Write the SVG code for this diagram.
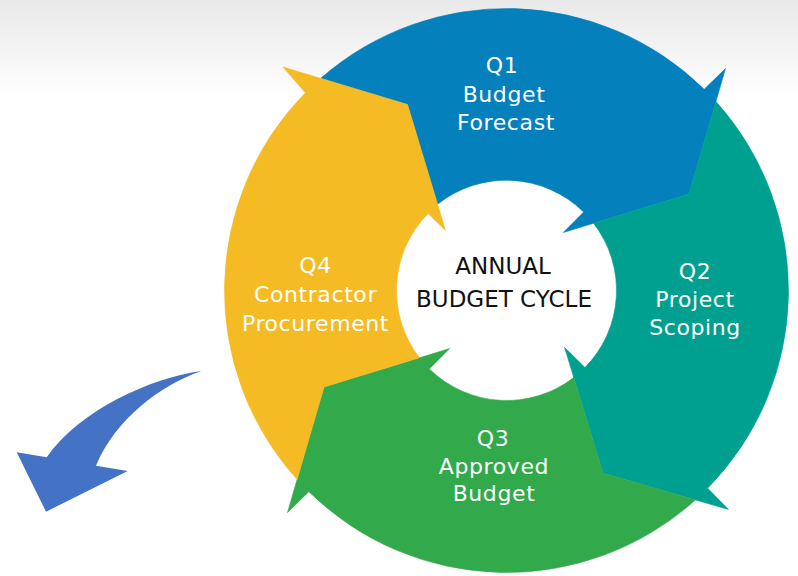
<svg xmlns="http://www.w3.org/2000/svg" width="798" height="576" viewBox="0 0 798 576">
  <defs>
    <linearGradient id="haze" x1="0" y1="0" x2="0" y2="1">
      <stop offset="0" stop-color="#e9e9e9"/>
      <stop offset="0.55" stop-color="#f4f4f4"/>
      <stop offset="1" stop-color="#ffffff"/>
    </linearGradient>
    <style>
      .seg-blue { fill: #0480bc; stroke: #0480bc; stroke-width: 0.6; stroke-linejoin: miter; }
      .seg-teal { fill: #00a091; stroke: #00a091; stroke-width: 0.6; stroke-linejoin: miter; }
      .seg-green { fill: #32aa4b; stroke: #32aa4b; stroke-width: 0.6; stroke-linejoin: miter; }
      .seg-yellow { fill: #f5bb25; stroke: #f5bb25; stroke-width: 0.6; stroke-linejoin: miter; }
      .label { font-family: "DejaVu Sans", "Noto Sans", sans-serif; font-size: 22px; letter-spacing: 0.6px; fill: #ffffff; text-anchor: middle; }
      .title { font-family: "DejaVu Sans", "Noto Sans", sans-serif; font-size: 23px; fill: #111111; text-anchor: middle; }
      .pointer { fill: #4472c4; }
    </style>
  </defs>

  <!-- page background with a soft grey band along the top -->
  <rect x="0" y="0" width="798" height="576" fill="#ffffff"/>
  <rect x="0" y="0" width="798" height="95" fill="url(#haze)"/>

  <!-- Q1: top segment, arrowhead pointing into Q2 -->
  <g id="node-q1">
    <path class="seg-blue" d="M320.71,78.36 A282,282 0 0 1 704.16,89.36 L725.5,68.5 L689,194 L563.3,232.5 L583.6,212.04 A110,110 0 0 0 437.59,204.26 L407.5,104.5 Z"/>
    <text class="label" x="502" y="72.5">Q1</text>
    <text class="label" x="504" y="101.5">Budget</text>
    <text class="label" x="506" y="130">Forecast</text>
  </g>

  <!-- Q2: right segment -->
  <g id="node-q2">
    <path class="seg-teal" d="M715.88,101.59 A282,282 0 0 1 707.64,488.16 L728.5,509.5 L603,473 L564.5,347.3 L584.96,367.6 A110,110 0 0 0 593.54,223.24 L689,194 Z"/>
    <text class="label" x="695" y="278.5">Q2</text>
    <text class="label" x="695" y="307">Project</text>
    <text class="label" x="695" y="335">Scoping</text>
  </g>

  <!-- Q3: bottom segment -->
  <g id="node-q3">
    <path class="seg-green" d="M695.41,499.88 A282,282 0 0 1 308.84,491.64 L287.5,512.5 L324,387 L449.7,348.5 L429.4,368.96 A110,110 0 0 0 573.76,377.54 L603,473 Z"/>
    <text class="label" x="493" y="445.7">Q3</text>
    <text class="label" x="494" y="474">Approved</text>
    <text class="label" x="494" y="501">Budget</text>
  </g>

  <!-- Q4: left segment -->
  <g id="node-q4">
    <path class="seg-yellow" d="M297.12,479.41 A282,282 0 0 1 305.36,92.84 L283,67 L407.5,104.5 L445.5,230.5 L428.04,213.4 A110,110 0 0 0 419.46,357.76 L324,387 Z"/>
    <text class="label" x="315.5" y="273.3">Q4</text>
    <text class="label" x="315.5" y="302">Contractor</text>
    <text class="label" x="315.5" y="331">Procurement</text>
  </g>

  <!-- hub caption -->
  <g id="node-center">
    <text class="title" x="503" y="274.3">ANNUAL</text>
    <text class="title" x="504" y="306.7">BUDGET CYCLE</text>
  </g>

  <!-- curved pointer leaving the cycle -->
  <g id="connectors">
    <path class="pointer" d="M201.7,371 C150,378 80,410 46.7,457.3 L16.7,452.3 L46,511.7 L127.7,471 L96,465.7 C115,420 160,385 201.7,371 Z"/>
  </g>
</svg>
